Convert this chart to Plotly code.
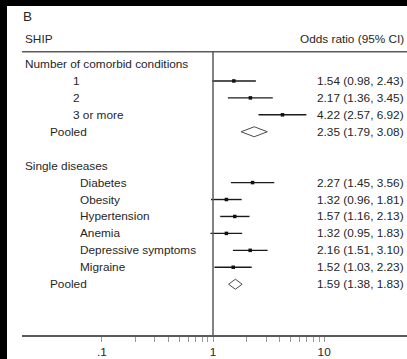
import math
import plotly.graph_objects as go

# ---- data ----
comorb_labels = ["1", "2", "3 or more"]
comorb_or = [1.54, 2.17, 4.22]
comorb_lo = [0.98, 1.36, 2.57]
comorb_hi = [2.43, 3.45, 6.92]
comorb_pooled = [2.35, 1.79, 3.08]  # estimate, lower, upper

disease_labels = ["Diabetes", "Obesity", "Hypertension", "Anemia",
                  "Depressive symptoms", "Migraine"]
disease_or = [2.27, 1.32, 1.57, 1.32, 2.16, 1.52]
disease_lo = [1.45, 0.96, 1.16, 0.95, 1.51, 1.03]
disease_hi = [3.56, 1.81, 2.13, 1.83, 3.10, 2.23]
disease_pooled = [1.59, 1.38, 1.83]

tick_vals = [0.1, 1, 10]
tick_text = [".1", "1", "10"]
minor_vals = [0.2, 0.3, 0.4, 0.5, 0.6, 0.7, 0.8, 0.9,
              2, 3, 4, 5, 6, 7, 8, 9]
null_value = 1

# ---- layout constants ----
W, H = 407, 359
ML, MR, MT, MB = 22, 0, 6, 24
PW, PH = W - ML - MR, H - MT - MB
ROW0_PX, ROW_PX = 64.0, 16.94          # pixel centre of first row, row pitch
FONT = "Arial, Liberation Sans, sans-serif"
TXT = "#262626"
FS = 11.8


def row_of(px):
    return (px - ROW0_PX) / ROW_PX


def xp(px):
    return (px - ML) / PW


# row assignment
rows = []  # (label, indent_px, kind, values)
rows.append(("Number of comorbid conditions", 25, "head", None))
for lab, o, l, h in zip(comorb_labels, comorb_or, comorb_lo, comorb_hi):
    rows.append((lab, 73, "est", (o, l, h)))
rows.append(("Pooled", 50, "pool", tuple(comorb_pooled)))
rows.append(("", 0, "blank", None))
rows.append(("Single diseases", 25, "head", None))
for lab, o, l, h in zip(disease_labels, disease_or, disease_lo, disease_hi):
    rows.append((lab, 80, "est", (o, l, h)))
rows.append(("Pooled", 50, "pool", tuple(disease_pooled)))

fig = go.Figure()

# point estimates with confidence intervals
est_y, est_x, err_p, err_m = [], [], [], []
for i, (lab, ind, kind, v) in enumerate(rows):
    if kind == "est":
        o, l, h = v
        est_y.append(i)
        est_x.append(o)
        err_p.append(h - o)
        err_m.append(o - l)
fig.add_trace(go.Scatter(
    x=est_x, y=est_y, mode="markers",
    marker=dict(symbol="square", size=3.5, color="#111111"),
    error_x=dict(type="data", symmetric=False, array=err_p,
                 arrayminus=err_m, width=0, thickness=1.4, color="#1a1a1a"),
    hoverinfo="skip", showlegend=False))

# pooled diamonds
half = 5.0 / ROW_PX
for i, (lab, ind, kind, v) in enumerate(rows):
    if kind == "pool":
        o, l, h = v
        fig.add_trace(go.Scatter(
            x=[l, o, h, o, l], y=[i, i - half, i, i + half, i],
            mode="lines", fill="toself", fillcolor="white",
            line=dict(color="#4a4a4a", width=1),
            hoverinfo="skip", showlegend=False))

annotations = []
for i, (lab, ind, kind, v) in enumerate(rows):
    if lab:
        annotations.append(dict(
            x=xp(ind - 2), xref="paper", y=i, yref="y", text=lab,
            showarrow=False, xanchor="left", yanchor="middle",
            font=dict(family=FONT, size=FS, color=TXT)))
    if v is not None:
        o, l, h = v
        annotations.append(dict(
            x=xp(406), xref="paper", y=i, yref="y",
            text=f"{o:.2f} ({l:.2f}, {h:.2f})",
            showarrow=False, xanchor="right", yanchor="middle",
            font=dict(family=FONT, size=FS, color=TXT)))

annotations += [
    dict(x=xp(21), xref="paper", y=row_of(16.2), yref="y", text="B",
         showarrow=False, xanchor="left", yanchor="middle",
         font=dict(family=FONT, size=13.5, color=TXT)),
    dict(x=xp(23), xref="paper", y=row_of(38.7), yref="y", text="SHIP",
         showarrow=False, xanchor="left", yanchor="middle",
         font=dict(family=FONT, size=FS, color=TXT)),
    dict(x=xp(406), xref="paper", y=row_of(38.7), yref="y",
         text="Odds ratio (95% CI)",
         showarrow=False, xanchor="right", yanchor="middle",
         font=dict(family=FONT, size=FS, color=TXT)),
]

header_row = row_of(51.7)
bottom_row = row_of(MT + PH)
shapes = [
    # white page over the dark background
    dict(type="rect", xref="paper", yref="paper",
         x0=(7 - ML) / PW, x1=1.01, y0=-(MB + 2) / PH, y1=1.0,
         fillcolor="white", line=dict(width=0), layer="below"),
    # rule under the column headers
    dict(type="line", xref="paper", yref="y", x0=0, x1=1,
         y0=header_row, y1=header_row,
         line=dict(color="#5a5a5a", width=1.5)),
    # line of no effect
    dict(type="line", xref="x", yref="y", x0=null_value, x1=null_value,
         y0=header_row, y1=bottom_row,
         line=dict(color="#5a5a5a", width=1.5)),
]

decade = 111.15
x_lo = (ML - 213) / decade
x_hi = (W - MR - 213) / decade

fig.update_layout(
    width=W, height=H, autosize=False,
    margin=dict(l=ML, r=MR, t=MT, b=MB, pad=0),
    paper_bgcolor="black", plot_bgcolor="white",
    showlegend=False,
    annotations=annotations, shapes=shapes,
    xaxis=dict(type="log", range=[x_lo, x_hi],
               tickvals=tick_vals, ticktext=tick_text,
               ticks="outside", ticklen=5, tickwidth=1, tickcolor="#9a9a9a",
               showline=True, linecolor="#5a5a5a", linewidth=1.5,
               showgrid=False, zeroline=False,
               tickfont=dict(family=FONT, size=FS, color=TXT),
               minor=dict(tickvals=minor_vals, ticks="outside", ticklen=5,
                          tickwidth=1, tickcolor="#9a9a9a", showgrid=False)),
    yaxis=dict(range=[row_of(MT + PH), row_of(MT)], visible=False,
               showgrid=False, zeroline=False),
)

fig.write_html("out.html")
